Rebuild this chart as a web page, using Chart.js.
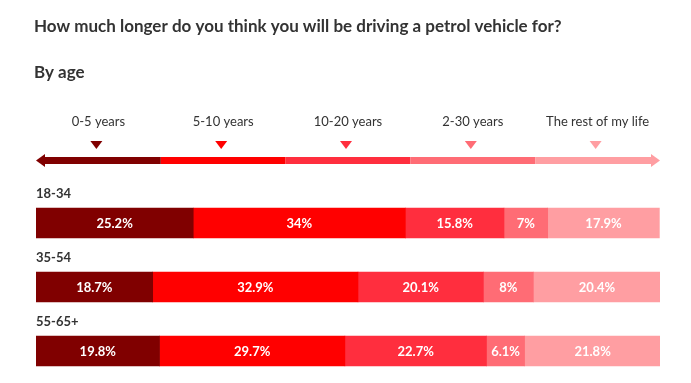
<!DOCTYPE html>
<html>
<head>
<meta charset="utf-8">
<style>
  html, body { margin: 0; padding: 0; background: #ffffff; }
  #chart { display: block; }
</style>
</head>
<body>
<canvas id="chart" width="691" height="383"></canvas>
<script src="https://cdn.jsdelivr.net/npm/chart.js@4/dist/chart.umd.min.js"></script>
<script>
const title = 'How much longer do you think you will be driving a petrol vehicle for?';
const subtitle = 'By age';
const ageGroups = ['18-34', '35-54', '55-65+'];
const seriesNames = ['0-5 years', '5-10 years', '10-20 years', '2-30 years', 'The rest of my life'];
const years0to5 = [25.2, 18.7, 19.8];
const years5to10 = [34, 32.9, 29.7];
const years10to20 = [15.8, 20.1, 22.7];
const years20to30 = [7, 8, 6.1];
const restOfLife = [17.9, 20.4, 21.8];

const colors = ['#800000', '#ff0000', '#ff2e3e', '#ff6c75', '#ff9ea2'];
const textColor = '#333333';
const fontFamily = 'Lato, "Open Sans", sans-serif';

const seriesValues = [years0to5, years5to10, years10to20, years20to30, restOfLife];

function drawTriangleDown(ctx, cx, top, w, h) {
  ctx.beginPath();
  ctx.moveTo(cx - w / 2, top);
  ctx.lineTo(cx + w / 2, top);
  ctx.lineTo(cx, top + h);
  ctx.closePath();
  ctx.fill();
}

// title, subtitle and the arrow legend across the top
const headerPlugin = {
  id: 'header',
  afterDraw(chart) {
    const ctx = chart.ctx;
    const area = chart.chartArea;
    ctx.save();
    ctx.fillStyle = textColor;
    ctx.textBaseline = 'middle';
    ctx.textAlign = 'left';
    ctx.font = 'bold 17px ' + fontFamily;
    ctx.fillText(title, 34, 27);
    ctx.fillText(subtitle, 34, 73);

    const n = chart.data.datasets.length;
    const w = (area.right - area.left) / n;
    const barTop = 157;
    const barH = 7;
    const head = 9;
    chart.data.datasets.forEach((ds, i) => {
      const x0 = area.left + i * w;
      const cx = x0 + w / 2;
      ctx.fillStyle = ds.backgroundColor;
      let sx = x0;
      let ex = x0 + w;
      if (i === 0) sx = x0 + head;
      if (i === n - 1) ex = x0 + w - head;
      ctx.fillRect(sx, barTop, ex - sx, barH);
      drawTriangleDown(ctx, cx - 2, 141, 12, 8);

      ctx.fillStyle = textColor;
      ctx.textAlign = 'center';
      ctx.font = '13px ' + fontFamily;
      ctx.fillText(ds.label, cx, 122);
    });

    // arrow heads
    const mid = barTop + barH / 2;
    ctx.fillStyle = chart.data.datasets[0].backgroundColor;
    ctx.beginPath();
    ctx.moveTo(area.left, mid);
    ctx.lineTo(area.left + head, mid - 6.5);
    ctx.lineTo(area.left + head, mid + 6.5);
    ctx.closePath();
    ctx.fill();
    ctx.fillStyle = chart.data.datasets[n - 1].backgroundColor;
    ctx.beginPath();
    ctx.moveTo(area.right, mid);
    ctx.lineTo(area.right - head, mid - 6.5);
    ctx.lineTo(area.right - head, mid + 6.5);
    ctx.closePath();
    ctx.fill();
    ctx.restore();
  },
};

// age group names above the bars and value labels inside the segments
const labelsPlugin = {
  id: 'rowLabels',
  afterDatasetsDraw(chart) {
    const ctx = chart.ctx;
    const yScale = chart.scales.y;
    ctx.save();
    ctx.textBaseline = 'middle';

    ctx.fillStyle = textColor;
    ctx.textAlign = 'left';
    ctx.font = 'bold 13px ' + fontFamily;
    chart.data.labels.forEach((label, i) => {
      const y = yScale.getPixelForValue(i);
      ctx.fillText(label, chart.chartArea.left, y - 15 - 14);
    });

    ctx.fillStyle = '#ffffff';
    ctx.textAlign = 'center';
    ctx.font = 'bold 13px ' + fontFamily;
    chart.data.datasets.forEach((ds, di) => {
      const meta = chart.getDatasetMeta(di);
      meta.data.forEach((bar, i) => {
        const cx = (bar.x + bar.base) / 2;
        ctx.fillText(ds.data[i] + '%', cx, bar.y + 1);
      });
    });
    ctx.restore();
  },
};

new Chart(document.getElementById('chart'), {
  type: 'bar',
  data: {
    labels: ageGroups,
    datasets: seriesNames.map((name, i) => ({
      label: name,
      data: seriesValues[i],
      backgroundColor: colors[i],
      borderWidth: 0,
      barThickness: 30,
    })),
  },
  options: {
    indexAxis: 'y',
    responsive: false,
    animation: false,
    layout: { padding: { top: 191, left: 36, right: 31, bottom: 0 } },
    plugins: {
      legend: { display: false },
      tooltip: { enabled: false },
    },
    scales: {
      x: { stacked: true, display: false, min: 0, max: 100 },
      y: { stacked: true, display: false },
    },
  },
  plugins: [headerPlugin, labelsPlugin],
});
</script>
</body>
</html>
